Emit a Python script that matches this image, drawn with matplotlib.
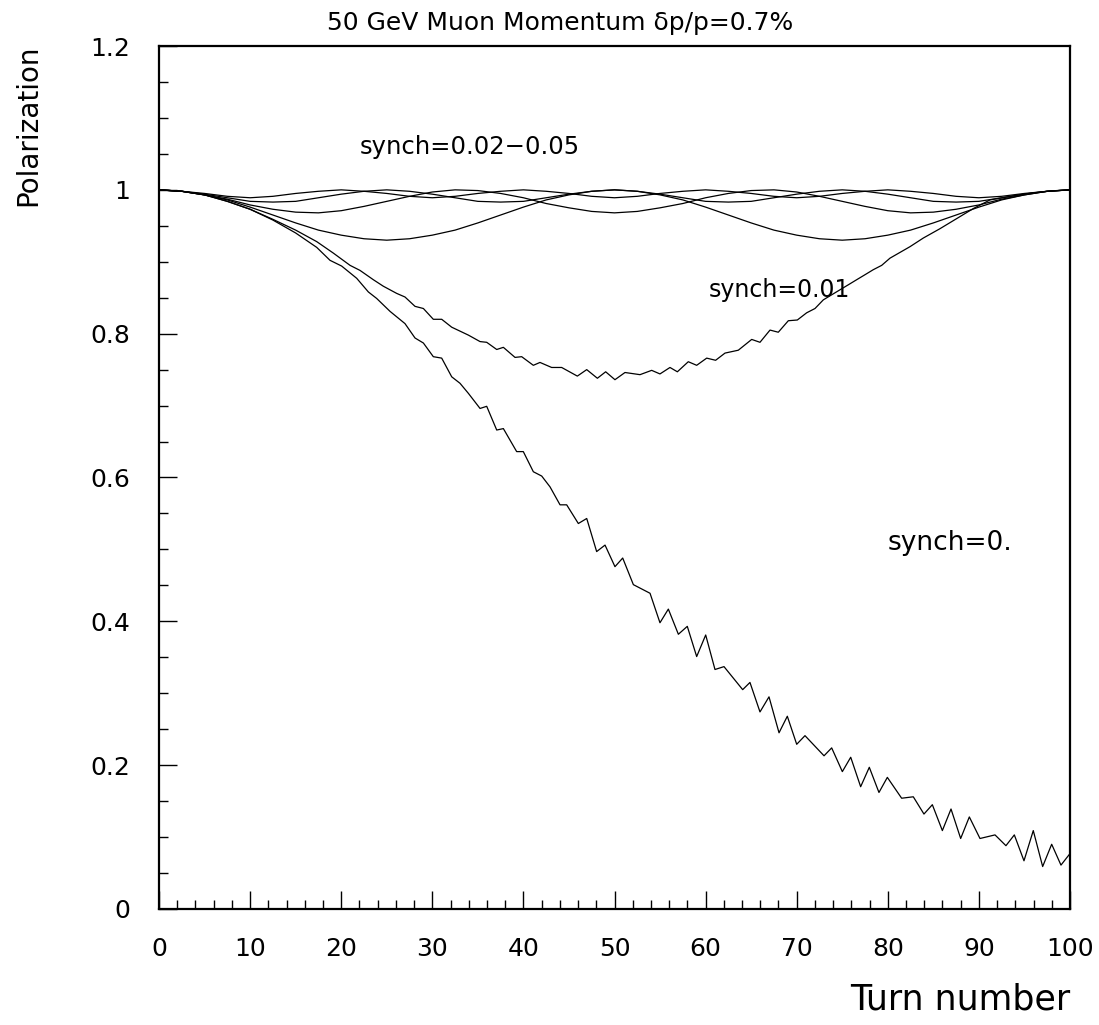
import numpy as np
import matplotlib
matplotlib.use("Agg")
import matplotlib.pyplot as plt
from matplotlib.ticker import MultipleLocator

# ---------------------------------------------------------------
# data (turn number vs polarization)
# ---------------------------------------------------------------
# synch = 0 (no synchrotron motion, steadily decohering)
turns_s0 = [0, 2.5, 5, 7.5, 10, 12.5, 15, 17.31, 18.77, 20.05, 21.70, 22.98, 23.89,
            25.36, 27.00, 28.10, 29.02, 30.11, 31.03, 32.13, 33.04, 33.96, 35.24,
            35.97, 37.07, 37.80, 39.26, 39.99, 41.09, 42.01, 42.92, 44.02, 44.75,
            46.03, 46.95, 48.04, 48.96,
            50.05, 50.90, 52.07, 53.90, 54.99, 55.91, 57.01, 57.99, 59.02, 60.01,
            61.03, 62.02, 64.07, 64.87, 65.97, 66.96, 68.06, 68.97, 70.00, 70.91,
            73.00, 73.84, 75.01, 75.93, 77.02, 77.97, 79.03, 79.95, 81.52, 82.80,
            83.97, 84.89, 85.99, 86.94, 88.00, 88.95, 90.12, 91.77, 92.97, 93.89,
            94.95, 95.97, 97.00, 97.99, 99.01, 100.0]
pol_s0 = [1.000, 0.998, 0.993, 0.984, 0.973, 0.958, 0.940, 0.920, 0.902, 0.894, 0.877,
          0.858, 0.849, 0.831, 0.814, 0.794, 0.787, 0.768, 0.766, 0.740, 0.731, 0.717,
          0.696, 0.699, 0.666, 0.668, 0.636, 0.636, 0.608, 0.602, 0.587, 0.562, 0.562,
          0.536, 0.543, 0.497, 0.506,
          0.476, 0.488, 0.451, 0.439, 0.398, 0.417, 0.382, 0.393, 0.351, 0.381,
          0.333, 0.337, 0.305, 0.315, 0.274, 0.295, 0.245, 0.268, 0.229, 0.241,
          0.213, 0.224, 0.191, 0.211, 0.170, 0.197, 0.162, 0.183, 0.154, 0.156,
          0.132, 0.145, 0.109, 0.139, 0.098, 0.128, 0.098, 0.103, 0.088, 0.103,
          0.067, 0.109, 0.059, 0.090, 0.061, 0.077]

# synch = 0.01
turns_s01 = [0, 2.5, 5, 7.5, 10, 12.5, 15, 17.31, 19.14, 20.97,
             22.06, 23.53, 24.62, 26.09, 27.00, 28.10, 29.02, 30.11, 31.03, 32.13,
             33.96, 35.24, 35.97, 37.07, 37.80, 39.08, 39.81, 41.09, 41.82, 43.10,
             44.20, 45.92, 46.95, 48.12, 49.03, 50.05, 51.15, 52.80, 54.08, 54.99,
             56.09, 56.90, 58.10, 59.02, 60.12, 61.10, 62.13, 63.59, 65.06, 65.97,
             67.07, 67.98, 69.08, 70.07, 71.09, 72.01, 72.92, 74.75, 75.67, 76.58,
             77.50, 78.41, 79.33, 80.24, 81.34, 82.44, 83.90, 85.73, 87.56, 89.39,
             91.22, 93.05, 94.88, 96.71, 98.54, 100]
pol_s01 = [1.000, 0.998, 0.993, 0.984, 0.973, 0.959, 0.944, 0.928, 0.912, 0.895,
           0.888, 0.875, 0.866, 0.856, 0.851, 0.838, 0.835, 0.820, 0.820, 0.809,
           0.798, 0.789, 0.788, 0.778, 0.781, 0.767, 0.768, 0.756, 0.760, 0.753,
           0.753, 0.741, 0.750, 0.738, 0.747, 0.736, 0.746, 0.743, 0.749, 0.744,
           0.753, 0.747, 0.761, 0.756, 0.766, 0.763, 0.773, 0.777, 0.792, 0.788,
           0.805, 0.802, 0.818, 0.819, 0.829, 0.835, 0.847, 0.861, 0.868, 0.875,
           0.882, 0.889, 0.895, 0.905, 0.913, 0.921, 0.933, 0.946, 0.960, 0.974,
           0.986, 0.990, 0.994, 0.997, 0.999, 1.000]

# synch = 0.02 ... 0.05, sampled every 2.5 turns
turns_hi = [0, 2.5, 5, 7.5, 10, 12.5, 15, 17.5, 20, 22.5, 25, 27.5, 30, 32.5, 35,
            37.5, 40, 42.5, 45, 47.5, 50, 52.5, 55, 57.5, 60, 62.5, 65, 67.5, 70,
            72.5, 75, 77.5, 80, 82.5, 85, 87.5, 90, 92.5, 95, 97.5, 100]
pol_s02 = [1.000, 0.998, 0.993, 0.986, 0.976, 0.965, 0.954, 0.944, 0.937, 0.932,
           0.930, 0.932, 0.937, 0.944, 0.954, 0.965, 0.976, 0.986, 0.993, 0.998,
           1.000, 0.998, 0.993, 0.986, 0.976, 0.965, 0.954, 0.944, 0.937, 0.932,
           0.930, 0.932, 0.937, 0.944, 0.954, 0.965, 0.976, 0.986, 0.993, 0.998,
           1.000]
pol_s03 = [1.000, 0.998, 0.993, 0.987, 0.979, 0.973, 0.969, 0.968, 0.971, 0.977,
           0.984, 0.991, 0.997, 1.000, 0.999, 0.995, 0.989, 0.981, 0.975, 0.970,
           0.968, 0.970, 0.975, 0.981, 0.989, 0.995, 0.999, 1.000, 0.997, 0.991,
           0.984, 0.977, 0.971, 0.968, 0.969, 0.973, 0.979, 0.987, 0.993, 0.998,
           1.000]
pol_s04 = [1.000, 0.998, 0.994, 0.989, 0.984, 0.983, 0.984, 0.989, 0.994, 0.998,
           1.000, 0.998, 0.994, 0.989, 0.984, 0.983, 0.984, 0.989, 0.994, 0.998,
           1.000, 0.998, 0.994, 0.989, 0.984, 0.983, 0.984, 0.989, 0.994, 0.998,
           1.000, 0.998, 0.994, 0.989, 0.984, 0.983, 0.984, 0.989, 0.994, 0.998,
           1.000]
pol_s05 = [1.000, 0.998, 0.995, 0.991, 0.989, 0.991, 0.995, 0.998,
           1.000, 0.998, 0.995, 0.991, 0.989, 0.991, 0.995, 0.998,
           1.000, 0.998, 0.995, 0.991, 0.989, 0.991, 0.995, 0.998,
           1.000, 0.998, 0.995, 0.991, 0.989, 0.991, 0.995, 0.998,
           1.000, 0.998, 0.995, 0.991, 0.989, 0.991, 0.995, 0.998,
           1.000]

title = "50 GeV Muon Momentum δp/p=0.7%"
labels = ["synch=0.02\u22120.05", "synch=0.01", "synch=0."]
label_pos = [(22.0, 1.060), (60.3, 0.861), (80.0, 0.509)]
label_size = [17.5, 17, 19]

# ---------------------------------------------------------------
# figure
# ---------------------------------------------------------------
plt.rcParams['font.family'] = ['DejaVu Sans']
fig = plt.figure(figsize=(10.99, 10.25), dpi=100)
ax = fig.add_axes([0.1447, 0.1132, 0.9736 - 0.1447, 0.9551 - 0.1132])

lw = 0.9
ax.plot(turns_s0, pol_s0, color='black', lw=lw)
ax.plot(turns_s01, pol_s01, color='black', lw=lw)
for pol in (pol_s02, pol_s03, pol_s04, pol_s05):
    ax.plot(turns_hi, pol, color='black', lw=lw)

for txt, (x, y), fs in zip(labels, label_pos, label_size):
    ax.text(x, y, txt, fontsize=fs, ha='left', va='center')

ax.set_xlim(0, 100)
ax.set_ylim(0, 1.2)
ax.xaxis.set_major_locator(MultipleLocator(10))
ax.xaxis.set_minor_locator(MultipleLocator(2))
ax.set_yticks([0, 0.2, 0.4, 0.6, 0.8, 1.0, 1.2])
ax.set_yticklabels(["0", "0.2", "0.4", "0.6", "0.8", "1", "1.2"])
ax.yaxis.set_minor_locator(MultipleLocator(0.05))

ax.tick_params(which='both', direction='in', top=False, right=False,
               labelsize=18, width=1.0)
ax.tick_params(which='major', length=13)
ax.tick_params(which='minor', length=6.5)
ax.tick_params(axis='x', which='major', pad=20)
ax.tick_params(axis='y', which='major', pad=21)
for sp in ax.spines.values():
    sp.set_linewidth(1.6)

fig.text(0.510, 0.978, title, fontsize=18, ha='center', va='center')
fig.text(0.974, 0.025, "Turn number", fontsize=25, ha='right', va='center')
fig.text(0.026, 0.957, "Polarization", fontsize=20, rotation=90,
         ha='center', va='top')

fig.savefig("out.png", dpi=100)
